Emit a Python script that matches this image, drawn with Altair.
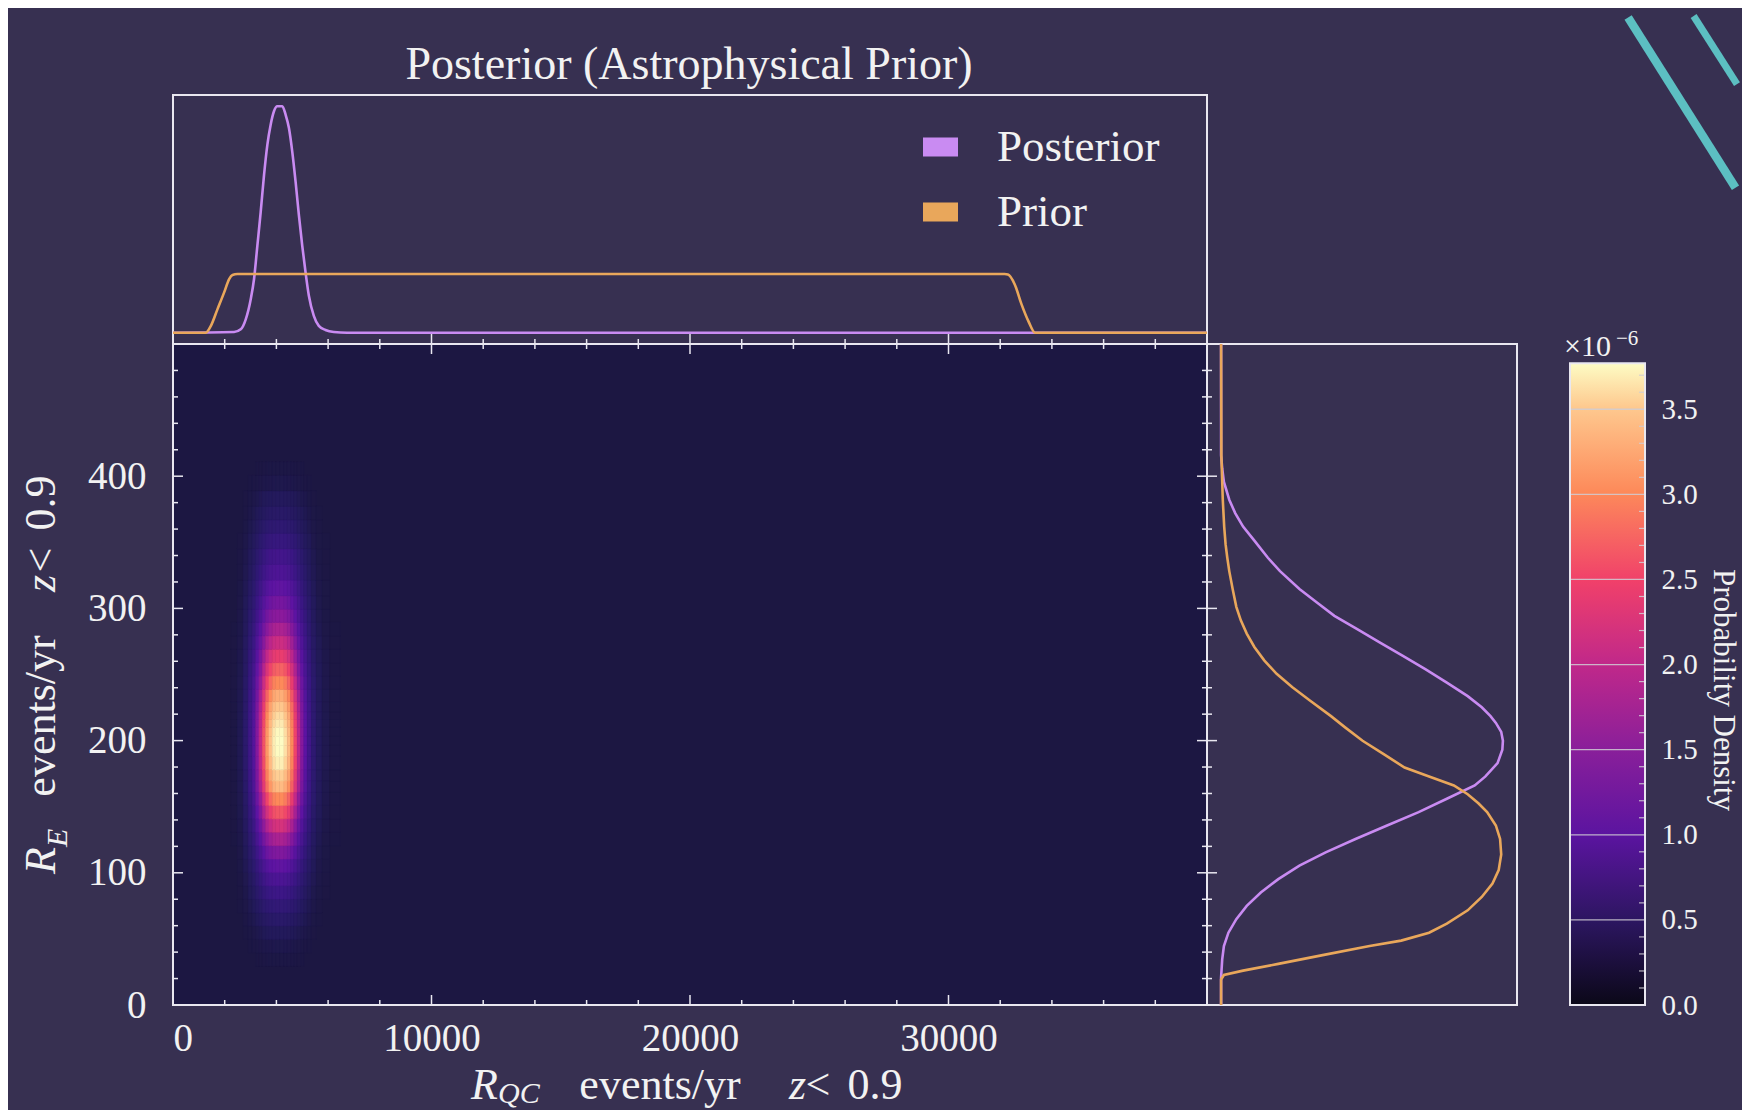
import altair as alt
import pandas as pd

# ---------------- values ----------------
# top marginal (R_QC), heights relative to the posterior peak
post_x = [0, 2364, 2621, 2814, 3007, 3135, 3264, 3392, 3521, 3650, 3778, 3906, 4035, 4228,
          4356, 4485, 4613, 4742, 4870, 4999, 5127, 5256, 5448, 5641, 5898, 6219, 6734, 40000]
post_h = [0, 0.003, 0.015, 0.059, 0.148, 0.237, 0.385, 0.533, 0.696, 0.830, 0.919, 0.978, 1.0, 1.0,
          0.963, 0.904, 0.800, 0.667, 0.519, 0.385, 0.267, 0.163, 0.074, 0.030, 0.012, 0.003, 0, 0]
prior_x = [0, 1272, 1465, 1722, 1979, 2172, 2300, 2493, 32170, 32300, 32563, 32826, 33090, 33350, 40000]
prior_h = [0, 0, 0.030, 0.104, 0.178, 0.237, 0.255, 0.259, 0.259, 0.257, 0.213, 0.125, 0.051, 0, 0]

# right marginal (R_E), densities relative to the posterior peak
rpost_y = [500, 415.9, 405.8, 395.7, 382.2, 372.1, 361.9, 351.8, 338.3, 328.2,
           314.7, 304.5, 294.4, 284.3, 274.2, 264.0, 253.9, 243.8, 233.6, 225.2,
           218.5, 213.4, 206.6, 199.9, 193.1, 183.0, 172.9, 166.1, 156.0, 145.9,
           135.8, 125.6, 115.5, 105.4, 95.2, 85.1, 75.0, 64.9, 54.7, 44.6,
           34.5, 21.0, 0]
rpost_d = [0, 0, 0.004, 0.010, 0.029, 0.050, 0.078, 0.116, 0.166, 0.209,
           0.278, 0.340, 0.402, 0.483, 0.564, 0.645, 0.726, 0.801, 0.875, 0.925,
           0.956, 0.975, 0.994, 1.0, 0.998, 0.981, 0.938, 0.900, 0.801, 0.701,
           0.589, 0.477, 0.371, 0.278, 0.203, 0.141, 0.091, 0.054, 0.026, 0.010,
           0.004, 0, 0]
rprior_y = [500, 415.9, 382.2, 361.9, 348.4, 338.3, 328.2, 314.7, 301.2, 291.0,
            280.9, 270.8, 260.7, 250.5, 240.4, 230.3, 218.5, 210.0, 199.9, 189.8,
            179.6, 172.9, 166.1, 159.4, 152.6, 145.9, 135.8, 125.6, 113.8, 102.0,
            91.9, 81.7, 71.6, 61.5, 54.7, 48.7, 44.6, 37.9, 31.1, 26.0,
            22.7, 19.3, 0]
rprior_d = [0, 0.001, 0.006, 0.011, 0.016, 0.022, 0.029, 0.041, 0.054, 0.070,
            0.091, 0.118, 0.153, 0.197, 0.253, 0.315, 0.390, 0.440, 0.502, 0.577,
            0.651, 0.738, 0.826, 0.875, 0.913, 0.944, 0.975, 0.990, 0.994, 0.985,
            0.963, 0.925, 0.875, 0.801, 0.738, 0.639, 0.527, 0.365, 0.203, 0.078,
            0.010, 0, 0]

# colour bar (units of 1e-6)
CB_MAX = 3.77
cb_label_vals = [0.0, 0.5, 1.0, 1.5, 2.0, 2.5, 3.0, 3.5]
cb_major = [0.5, 1.0, 1.5, 2.0, 2.5, 3.0, 3.5]
cb_minor = [0.1, 0.2, 0.3, 0.4, 0.6, 0.7, 0.8, 0.9, 1.1, 1.2, 1.3, 1.4, 1.6, 1.7, 1.8, 1.9,
            2.1, 2.2, 2.3, 2.4, 2.6, 2.7, 2.8, 2.9, 3.1, 3.2, 3.3, 3.4, 3.6, 3.7]

# axis ticks
x_major = [0, 10000, 20000, 30000]
x_minor = [2000, 4000, 6000, 8000, 12000, 14000, 16000, 18000, 22000, 24000, 26000, 28000,
           32000, 34000, 36000, 38000]
y_major = [0, 100, 200, 300, 400]
y_minor = [20, 40, 60, 80, 120, 140, 160, 180, 220, 240, 260, 280, 320, 340, 360, 380,
           420, 440, 460, 480]

series_names = ["Posterior", "Prior"]
title_text = "Posterior (Astrophysical Prior)"

# ---------------- styles ----------------
FONT = "Liberation Serif"
BG = "#373051"
HEAT_BG = "#1c1742"
FRAME = "#e9e7f0"
TICK = "#e9e7f0"
TXT = "#f2f2f2"
PURPLE = "#c98bf2"
ORANGE = "#e9a75b"
TEAL = "#5cbfc2"
TFS = 44      # axis-title font size
SFS = 30      # subscript font size

heat_pos = [0.0, 0.02, 0.06, 0.13, 0.265, 0.40, 0.53, 0.66, 0.80, 0.93, 1.0]
heat_colors = ["#1c1742", "#221a58", "#2b1a6c", "#3a1783", "#5c14a2", "#8a1a9c",
               "#c0288a", "#ee406c", "#fd8a5a", "#fec88e", "#fdfcc4"]
cbar_pos = [0.0, 0.13, 0.265, 0.40, 0.53, 0.66, 0.80, 0.93, 1.0]
cbar_colors = ["#0b0818", "#2c1660", "#5b14a0", "#8a1f9a", "#c0288a", "#f0406a",
               "#fd8a5a", "#fec88e", "#fdfcc4"]

T_W, T_H = 1034, 249
H_W, H_H = 1034, 661
R_W = 310
C_GAP, C_BAR = 53, 75
C_W = C_GAP + C_BAR
C_DOM = CB_MAX * H_H / 641.7

one = pd.DataFrame({"k": [0]})


def txt(text, x, y, size, **kw):
    return alt.Chart(one).mark_text(text=text, font=FONT, fontSize=size, color=TXT,
                                    baseline="alphabetic", **kw).encode(
        x=alt.value(x), y=alt.value(y))


def rules_x(vals, y0, y1):
    return alt.Chart(pd.DataFrame({"v": vals})).mark_rule(color=TICK, strokeWidth=1.5).encode(
        x=alt.X("v:Q"), y=alt.value(y0), y2=alt.value(y1))


def rules_y(vals, x0, x1):
    return alt.Chart(pd.DataFrame({"v": vals})).mark_rule(color=TICK, strokeWidth=1.5).encode(
        y=alt.Y("v:Q"), x=alt.value(x0), x2=alt.value(x1))


xs = alt.Scale(domain=[0, 40000], nice=False, zero=False)
ys = alt.Scale(domain=[0, 500], nice=False, zero=False)

# ---------------- top marginal ----------------
top_df = pd.DataFrame({
    "x": post_x + prior_x,
    "h": post_h + prior_h,
    "series": [series_names[0]] * len(post_x) + [series_names[1]] * len(prior_x),
})
top_lines = alt.Chart(top_df).mark_line(strokeWidth=2.6, interpolate="monotone", clip=True).encode(
    x=alt.X("x:Q", scale=xs, axis=None),
    y=alt.Y("h:Q", scale=alt.Scale(domain=[-0.05, 1.05], nice=False, zero=False), axis=None),
    color=alt.Color("series:N", scale=alt.Scale(domain=series_names, range=[PURPLE, ORANGE]),
                    legend=alt.Legend(orient="none", legendX=740.5, legendY=25, title=None,
                                      symbolType="M-1,0H1", symbolSize=1225, symbolStrokeWidth=19,
                                      labelFont=FONT, labelFontSize=45, labelColor=TXT,
                                      labelOffset=29.5, rowPadding=-21, padding=0,
                                      labelLimit=400)),
)
top_ticks_major = rules_x(x_major, T_H, T_H - 10)
top_ticks_minor = rules_x(x_minor, T_H, T_H - 5)
anchor = alt.Chart(one).mark_rule(strokeOpacity=0, strokeWidth=0.01).encode(
    x=alt.value(-164), x2=alt.value(-163), y=alt.value(-86), y2=alt.value(-86))
deco1 = alt.Chart(one).mark_rule(color=TEAL, strokeWidth=8.5).encode(
    x=alt.value(1455.1), y=alt.value(-77.5), x2=alt.value(1562.5), y2=alt.value(92.8))
deco2 = alt.Chart(one).mark_rule(color=TEAL, strokeWidth=7).encode(
    x=alt.value(1520.6), y=alt.value(-79), x2=alt.value(1564), y2=alt.value(-10.8))
top_title = txt(title_text, 516, -15.7, 46, align="center")

top = alt.layer(top_lines, top_ticks_major, top_ticks_minor, top_title, deco1, deco2, anchor).properties(
    width=T_W, height=T_H, view=alt.ViewBackground(stroke=FRAME, strokeWidth=2))

# ---------------- heat map ----------------
def edges(centers):
    c = sorted(centers)
    mids = [(c[i] + c[i + 1]) / 2 for i in range(len(c) - 1)]
    return c, [c[0] - (c[1] - c[0]) / 2] + mids, mids + [c[-1] + (c[-1] - c[-2]) / 2]

hx = dict(zip(post_x[1:-1], post_h[1:-1]))
hy = dict(zip(rpost_y[2:-2], rpost_d[2:-2]))
cx, cx0, cx1 = edges(list(hx.keys()))
cy, cy0, cy1 = edges(list(hy.keys()))
cells = []
for i, xv in enumerate(cx):
    for j, yv in enumerate(cy):
        v = CB_MAX * hx[xv] * hy[yv]
        if v > 0.005:
            cells.append({"x": cx0[i], "x2": cx1[i], "y": cy0[j], "y2": cy1[j], "v": v})
cells_df = pd.DataFrame(cells)

heat_scale = alt.Scale(domain=[p * CB_MAX for p in heat_pos], range=heat_colors,
                       interpolate="rgb", clamp=True)
heat = alt.Chart(cells_df).mark_rect(strokeWidth=0.6, clip=True).encode(
    x=alt.X("x:Q", scale=xs, axis=alt.Axis(values=x_major, format="d", labelFontSize=39,
                                             labelPadding=14, title=None)),
    x2="x2:Q",
    y=alt.Y("y:Q", scale=ys, axis=alt.Axis(values=y_major, format="d", labelFontSize=39,
                                             labelPadding=27, title=None)),
    y2="y2:Q",
    fill=alt.Fill("v:Q", scale=heat_scale, legend=None),
    stroke=alt.Stroke("v:Q", scale=heat_scale, legend=None),
)
h_layers = [
    heat,
    rules_x(x_major, H_H, H_H - 10), rules_x(x_minor, H_H, H_H - 5),
    rules_x(x_major, 0, 10), rules_x(x_minor, 0, 5),
    rules_y(y_major, 0, 10), rules_y(y_minor, 0, 5),
    rules_y(y_major, H_W, H_W - 10), rules_y(y_minor, H_W, H_W - 5),
    # x-axis title
    txt("R", 298, 755, TFS, fontStyle="italic", align="left"),
    txt("QC", 325, 759, SFS, fontStyle="italic", align="left"),
    txt("events/yr", 487, 755, TFS, align="center"),
    txt("z", 616, 755, TFS, fontStyle="italic", align="left"),
    txt("<", 645, 755, TFS, align="center"),
    txt("0.9", 702, 755, TFS, align="center"),
    # y-axis title (reads bottom to top)
    txt("R", -118, 530, TFS, fontStyle="italic", align="left", angle=270),
    txt("E", -106, 503, SFS, fontStyle="italic", align="left", angle=270),
    txt("events/yr", -118, 372, TFS, align="center", angle=270),
    txt("z", -118, 248, TFS, fontStyle="italic", align="left", angle=270),
    txt("<", -118, 216, TFS, align="center", angle=270),
    txt("0.9", -118, 159, TFS, align="center", angle=270),
]
heatmap = alt.layer(*h_layers).properties(
    width=H_W, height=H_H, view=alt.ViewBackground(fill=HEAT_BG, stroke=FRAME, strokeWidth=2))

# ---------------- right marginal ----------------
ds = alt.Scale(domain=[-0.05, 1.05], nice=False, zero=False)
r_post = alt.Chart(pd.DataFrame({"d": rpost_d, "y": rpost_y})).mark_line(
    color=PURPLE, strokeWidth=2.6).encode(
    x=alt.X("d:Q", scale=ds, axis=None), y=alt.Y("y:Q", scale=ys, axis=None), order="y:Q")
r_prior = alt.Chart(pd.DataFrame({"d": rprior_d, "y": rprior_y})).mark_line(
    color=ORANGE, strokeWidth=2.6).encode(
    x=alt.X("d:Q", scale=ds, axis=None), y=alt.Y("y:Q", scale=ys, axis=None), order="y:Q")
right = alt.layer(r_post, r_prior, rules_y(y_major, 0, 10), rules_y(y_minor, 0, 5)).properties(
    width=R_W, height=H_H, view=alt.ViewBackground(stroke=FRAME, strokeWidth=2))

# ---------------- colour bar ----------------
grad = alt.LinearGradient(gradient="linear",
                          stops=[alt.GradientStop(color=c, offset=o) for o, c in zip(cbar_pos, cbar_colors)],
                          x1=0, x2=0, y1=1, y2=0)
cb_df = pd.DataFrame({"x": [0], "x2": [1], "y": [0], "y2": [CB_MAX]})
cxs = alt.Scale(domain=[0, 1], range=[C_GAP, C_W], nice=False, zero=False)
cys = alt.Scale(domain=[0, C_DOM], nice=False, zero=False)
cb_fill = alt.Chart(cb_df).mark_rect(fill=grad).encode(
    x=alt.X("x:Q", scale=cxs, axis=None), x2="x2:Q",
    y=alt.Y("y:Q", scale=cys, axis=alt.Axis(orient="right", values=cb_label_vals, format=".1f",
                                             labelFontSize=29, labelPadding=16, title=None)),
    y2="y2:Q")
cb_lines = alt.Chart(pd.DataFrame({"v": cb_major})).mark_rule(color="#d0ccd4", strokeWidth=1.3,
                                                            opacity=0.85).encode(
    y=alt.Y("v:Q", scale=cys), x=alt.value(C_GAP), x2=alt.value(C_W))
cb_minor_t = alt.Chart(pd.DataFrame({"v": cb_minor})).mark_rule(color="#d0ccd4", strokeWidth=1.2,
                                                               opacity=0.85).encode(
    y=alt.Y("v:Q", scale=cys), x=alt.value(C_W - 6), x2=alt.value(C_W))
cb_frame = alt.Chart(cb_df).mark_rect(fillOpacity=0, stroke=FRAME, strokeWidth=2).encode(
    x=alt.X("x:Q", scale=cxs), x2="x2:Q", y=alt.Y("y:Q", scale=cys), y2="y2:Q")
cbar = alt.layer(
    cb_fill, cb_lines, cb_minor_t, cb_frame,
    txt("×10", 47, 12, 30, align="left"),
    txt("−6", 99, 1, 21, align="left"),
    txt("Probability Density", 197, 346, 31, align="center", angle=90),
).properties(width=C_W, height=H_H, view=alt.ViewBackground(stroke="transparent", strokeWidth=0))

# ---------------- assemble ----------------
row = alt.hconcat(heatmap, right, cbar, spacing=0, bounds="flush").resolve_scale(
    x="independent", y="independent", fill="independent", stroke="independent")
chart = alt.vconcat(top, row, spacing=0, bounds="flush").resolve_scale(
    x="independent", y="independent", color="independent", fill="independent",
    stroke="independent").properties(
    padding={"left": 0, "top": 0, "right": 0, "bottom": 0}
).configure(background=BG).configure_view(stroke="transparent").configure_axis(
    labelFont=FONT, labelColor=TXT, grid=False, ticks=False, domain=False)

chart.save("out.html", embed_options={"renderer": "svg", "actions": False})
